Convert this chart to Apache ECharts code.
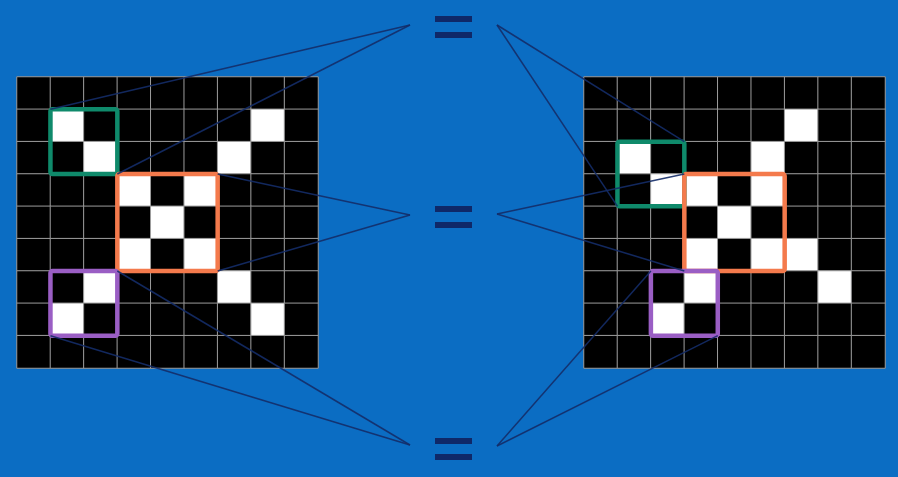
<!DOCTYPE html>
<html><head><meta charset="utf-8">
<script src="https://cdn.jsdelivr.net/npm/echarts@6/dist/echarts.min.js"></script>
<style>html,body{margin:0;padding:0;background:#0b6dc3}#c{width:898px;height:477px}</style>
</head><body><div id="c"></div>
<script>
// categories (columns / rows of each 9x9 pixel grid)
const gridCols = ['0','1','2','3','4','5','6','7','8'];
const gridRows = ['0','1','2','3','4','5','6','7','8'];
// white pixels [col,row]
const leftWhite = [[1,1],[7,1],[2,2],[6,2],[3,3],[5,3],[4,4],[3,5],[5,5],[2,6],[6,6],[1,7],[7,7]];
const rightWhite = [[6,1],[1,2],[5,2],[2,3],[3,3],[5,3],[4,4],[3,5],[5,5],[6,5],[3,6],[7,6],[2,7]];
// feature boxes [c0,r0,c1,r1]: green, orange, purple
const leftBoxes = [[1,1,2,2],[3,3,5,5],[1,6,2,7]];
const rightBoxes = [[1,2,2,3],[3,3,5,5],[2,6,3,7]];
// which box corners connect to the "=" signs
const leftCorners = [['tl','br'],['tr','br'],['bl','tr']];
const rightCorners = [['tr','bl'],['tl','bl'],['tl','br']];

const boxColors = ['#0f8a6b','#f47a4c','#9a5ec4'];

function cells(white){
  const out=[];
  for(let r=0;r<9;r++)for(let c=0;c<9;c++){
    out.push([c,r,white.some(w=>w[0]===c&&w[1]===r)?1:0]);
  }
  return out;
}
function boxSeries(idx, boxes){
  return {
    type:'custom', xAxisIndex:idx, yAxisIndex:idx, z:5,
    dimensions:['c0','r0','c1','r1'],
    encode:{x:[0,2], y:[1,3]},
    data:boxes,
    renderItem:function(params, api){
      const p0=api.coord([api.value(0),api.value(1)]);
      const p1=api.coord([api.value(2),api.value(3)]);
      const s=api.size([1,1]);
      return {type:'rect', shape:{x:p0[0]-s[0]/2, y:p0[1]-s[1]/2, width:p1[0]-p0[0]+s[0], height:p1[1]-p0[1]+s[1], r:2},
        style:{fill:null, stroke:boxColors[params.dataIndex], lineWidth:4.5}};
    }
  };
}
const chart = echarts.init(document.getElementById('c'));
const axX = i=>({type:'category', gridIndex:i, data:gridCols, show:false});
const axY = i=>({type:'category', gridIndex:i, data:gridRows, inverse:true, show:false});
chart.setOption({
  backgroundColor:'#0b6dc3',
  animation:false,
  grid:[{left:17, top:77, width:301, height:291},{left:584, top:77, width:301, height:291}],
  xAxis:[axX(0),axX(1)],
  yAxis:[axY(0),axY(1)],
  visualMap:{show:false, type:'piecewise', seriesIndex:[0,1], dimension:2,
    pieces:[{value:0,color:'#000000'},{value:1,color:'#ffffff'}]},
  series:[
    {type:'heatmap', xAxisIndex:0, yAxisIndex:0, data:cells(leftWhite), itemStyle:{borderColor:'#9c9c9c', borderWidth:1}},
    {type:'heatmap', xAxisIndex:1, yAxisIndex:1, data:cells(rightWhite), itemStyle:{borderColor:'#9c9c9c', borderWidth:1}},
    boxSeries(0,leftBoxes),
    boxSeries(1,rightBoxes)
  ]
});

// equals signs and converging lines
const eqY = [27, 217, 449];
const anchorL = [[410,25],[410,215],[410,445]];
const anchorR = [[497,25],[497,214],[497,446]];
function corner(gi, box, which){
  const a = chart.convertToPixel({gridIndex:gi}, [box[0], box[1]]);
  const b = chart.convertToPixel({gridIndex:gi}, [box[2], box[3]]);
  const o = chart.convertToPixel({gridIndex:gi}, [1,1]);
  const z = chart.convertToPixel({gridIndex:gi}, [0,0]);
  const hx=(o[0]-z[0])/2, hy=(o[1]-z[1])/2;
  const x = which[1]==='l' ? a[0]-hx : b[0]+hx;
  const y = which[0]==='t' ? a[1]-hy : b[1]+hy;
  return [x,y];
}
const g=[];
const lineStyle={stroke:'#142c68', lineWidth:1.5, opacity:0.9};
for(let i=0;i<3;i++){
  leftCorners[i].forEach(w=>{
    const p=corner(0,leftBoxes[i],w);
    g.push({type:'line', z:100, shape:{x1:anchorL[i][0],y1:anchorL[i][1],x2:p[0],y2:p[1]}, style:lineStyle});
  });
  rightCorners[i].forEach(w=>{
    const p=corner(1,rightBoxes[i],w);
    g.push({type:'line', z:100, shape:{x1:anchorR[i][0],y1:anchorR[i][1],x2:p[0],y2:p[1]}, style:lineStyle});
  });
  [-8,8].forEach(d=>{
    g.push({type:'rect', z:100, shape:{x:435, y:eqY[i]+d-3, width:37, height:6}, style:{fill:'#0f2868'}});
  });
}
chart.setOption({graphic:g});
</script></body></html>
